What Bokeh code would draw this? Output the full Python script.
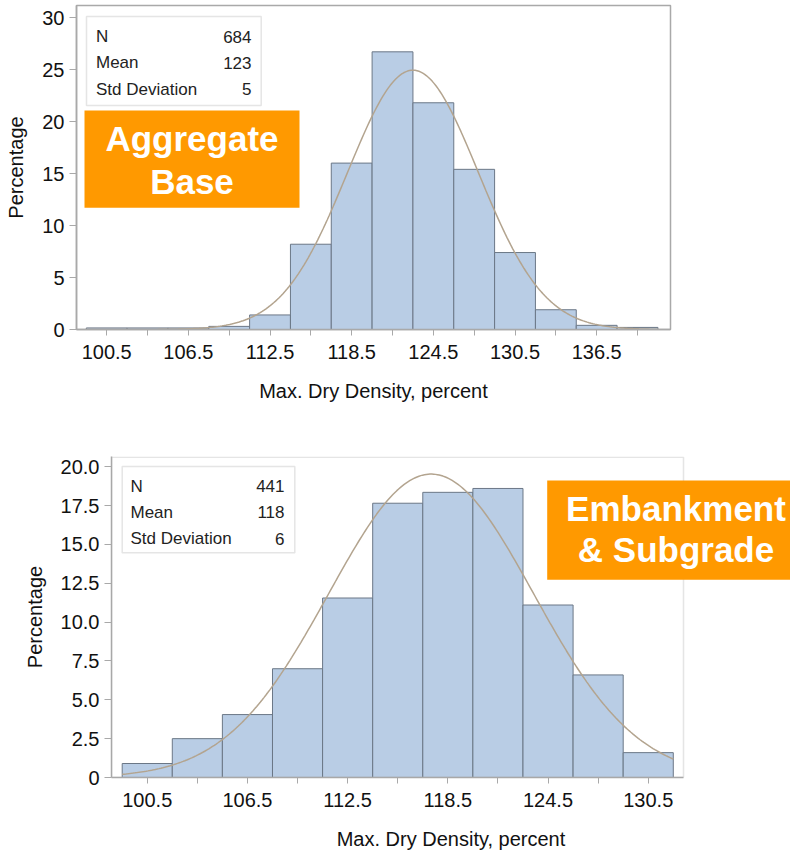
import numpy as np
from bokeh.plotting import figure
from bokeh.models import Range1d, FixedTicker, Label, BoxAnnotation, NumeralTickFormatter
from bokeh.embed import file_html
from bokeh.resources import INLINE

# ---------------- data ----------------
bin_width = 3.0

agg_centers = [100.5, 103.5, 106.5, 109.5, 112.5, 115.5, 118.5, 121.5, 124.5, 127.5, 130.5, 133.5, 136.5, 139.5]
agg_pct = [0.15, 0.15, 0.15, 0.3, 1.4, 8.2, 16.0, 26.7, 21.8, 15.4, 7.4, 1.9, 0.4, 0.2]
agg_stats_labels = ["N", "Mean", "Std Deviation"]
agg_stats_values = ["684", "123", "5"]
agg_fit_mean = 123.0
agg_fit_sd = 4.8
agg_x_ticks = [100.5, 106.5, 112.5, 118.5, 124.5, 130.5, 136.5]
agg_x_minor = [103.5, 109.5, 115.5, 121.5, 127.5, 133.5, 139.5]
agg_y_ticks = [0, 5, 10, 15, 20, 25, 30]

emb_centers = [100.5, 103.5, 106.5, 109.5, 112.5, 115.5, 118.5, 121.5, 124.5, 127.5, 130.5]
emb_pct = [0.9, 2.5, 4.05, 7.0, 11.55, 17.65, 18.35, 18.6, 11.1, 6.6, 1.6]
emb_stats_labels = ["N", "Mean", "Std Deviation"]
emb_stats_values = ["441", "118", "6"]
emb_fit_mean = 117.5
emb_fit_sd = 6.13
emb_x_ticks = [100.5, 106.5, 112.5, 118.5, 124.5, 130.5]
emb_x_minor = [103.5, 109.5, 115.5, 121.5, 127.5]
emb_y_ticks = [0, 2.5, 5, 7.5, 10, 12.5, 15, 17.5, 20]

x_label = "Max. Dry Density, percent"
y_label = "Percentage"

# ---------------- style ----------------
FONT = "Liberation Sans"
BAR_FILL = "#b9cde5"
BAR_LINE = "#6b7786"
CURVE = "#b3a48f"
FRAME = "#a9a9a9"
ORANGE = "#ff9900"
STAT_FS = 17
TAG_FS = 35
BASE_SHIFT = 0.38   # observed baseline offset of Label text (in em)


def normal_curve(centers, mean, sd, n=300):
    lo = centers[0] - bin_width / 2
    hi = centers[-1] + bin_width / 2
    xs = np.linspace(lo, hi, n)
    ys = 100 * bin_width * np.exp(-0.5 * ((xs - mean) / sd) ** 2) / (sd * np.sqrt(2 * np.pi))
    return xs, ys


def make_fig(centers, pct, fit_mean, fit_sd, xr, yr, fw, fh, borders, xticks, xminor, yticks):
    p = figure(frame_width=fw, frame_height=fh, x_range=Range1d(*xr), y_range=Range1d(*yr),
               output_backend="svg", toolbar_location=None,
               min_border_left=borders[0], min_border_right=borders[1],
               min_border_top=borders[2], min_border_bottom=borders[3])
    p.grid.visible = False
    p.outline_line_color = FRAME
    p.outline_line_width = 1.5
    p.background_fill_color = "white"
    p.border_fill_color = "white"

    p.vbar(x=centers, width=bin_width, top=pct, bottom=0,
           fill_color=BAR_FILL, line_color=BAR_LINE, line_width=1)
    xs, ys = normal_curve(centers, fit_mean, fit_sd)
    p.line(xs, ys, line_color=CURVE, line_width=1.5)

    xa = p.xaxis[0]
    xa.ticker = FixedTicker(ticks=xticks, minor_ticks=xminor)
    xa.axis_label = x_label
    ya = p.yaxis[0]
    ya.ticker = FixedTicker(ticks=yticks)
    ya.axis_label = y_label
    for ax in (xa, ya):
        ax.axis_line_color = FRAME
        ax.axis_line_width = 1.5
        ax.major_tick_line_color = FRAME
        ax.minor_tick_line_color = FRAME
        ax.major_tick_in = 0
        ax.minor_tick_in = 0
        ax.major_label_text_font = FONT
        ax.major_label_text_font_size = "20px"
        ax.major_label_text_color = "#111111"
        ax.axis_label_text_font = FONT
        ax.axis_label_text_font_size = "20px"
        ax.axis_label_text_font_style = "normal"
        ax.axis_label_text_color = "#111111"
    xa.major_tick_out = 6
    xa.minor_tick_out = 6
    xa.major_label_standoff = 9
    xa.axis_label_standoff = 18
    ya.major_tick_out = 7
    ya.minor_tick_out = 0
    ya.major_label_standoff = 5
    ya.axis_label_standoff = 12
    return p


def add_stats(p, box, labels, values, xl, xr_, baselines):
    p.add_layout(BoxAnnotation(left=box[0], right=box[1], top=box[2], bottom=box[3],
                               fill_color="white", fill_alpha=1.0,
                               line_color=FRAME, line_width=1.5))
    for lab, val, yb in zip(labels, values, baselines):
        p.add_layout(Label(x=xl, y=yb, text=lab, text_font=FONT, text_font_size=f"{STAT_FS}px",
                           text_color="#222222", text_align="left", text_baseline="alphabetic"))
        p.add_layout(Label(x=xr_, y=yb, text=val, text_font=FONT, text_font_size=f"{STAT_FS}px",
                           text_color="#222222", text_align="right", text_baseline="alphabetic"))


def add_tag(p, box, lines, xc, baselines):
    p.add_layout(BoxAnnotation(left=box[0], right=box[1], top=box[2], bottom=box[3],
                               fill_color=ORANGE, fill_alpha=1.0, line_color=None))
    for t, yb in zip(lines, baselines):
        p.add_layout(Label(x=xc, y=yb, text=t, text_font=FONT, text_font_size=f"{TAG_FS}px",
                           text_font_style="bold", text_color="white",
                           text_align="center", text_baseline="alphabetic"))


# ---------------- top chart ----------------
T_PX_X = 13.61   # px per unit
T_PX_Y = 10.4
T_X0 = 98.28
T_FW, T_FH = 594, 324
top_xr = (T_X0, T_X0 + T_FW / T_PX_X)
top_yr = (0, T_FH / T_PX_Y)
# page pixel -> data helpers (frame left at 76 px, zero line at 329 px)
tx = lambda px: T_X0 + (px - 76) / T_PX_X
ty = lambda py: (329 - py) / T_PX_Y
s_stat = BASE_SHIFT * STAT_FS
s_tag = BASE_SHIFT * TAG_FS

p1 = make_fig(agg_centers, agg_pct, agg_fit_mean, agg_fit_sd, top_xr, top_yr, T_FW, T_FH,
              (76, 120, 5, 109), agg_x_ticks, agg_x_minor, agg_y_ticks)
add_stats(p1, (tx(86), tx(260.7), ty(16), ty(105)), agg_stats_labels, agg_stats_values,
          tx(95.5), tx(251), [ty(42.7 - s_stat), ty(68.5 - s_stat), ty(95 - s_stat)])
add_tag(p1, (tx(84), tx(299), ty(110), ty(207.3)), ["Aggregate", "Base"], tx(191.5),
        [ty(151.7 - s_tag), ty(194.5 - s_tag)])

# ---------------- bottom chart ----------------
B_PX_X = 16.7
B_PX_Y = 15.54
B_X0 = 98.36
B_FW_VIS = 572           # visible chart frame width
B_FW = 679               # drawing area extends to the window edge (for the orange tag)
B_FH = 321
bot_xr = (B_X0, B_X0 + B_FW / B_PX_X)
bot_x_vis_end = B_X0 + B_FW_VIS / B_PX_X
bot_yr = (0, B_FH / B_PX_Y)
B_TOP = 438
bx = lambda px: B_X0 + (px - 111) / B_PX_X
by = lambda py: (B_TOP + 18 + B_FH - py) / B_PX_Y

p2 = make_fig(emb_centers, emb_pct, emb_fit_mean, emb_fit_sd, bot_xr, bot_yr, B_FW, B_FH,
              (111, 0, 18, 75), emb_x_ticks, emb_x_minor, emb_y_ticks)
p2.outline_line_color = None
p2.xaxis[0].bounds = (B_X0, bot_x_vis_end)
p2.yaxis[0].formatter = NumeralTickFormatter(format="0.0")
p2.yaxis[0].major_label_overrides = {0: "0"}
# visible frame of the lower chart
p2.add_layout(BoxAnnotation(left=B_X0, right=bot_x_vis_end, bottom=0,
                            top=bot_yr[1] - 0.75 / B_PX_Y,
                            fill_alpha=0, line_color=FRAME, line_width=1.5))
add_stats(p2, (bx(121.7), bx(294.3), by(466), by(552.3)), emb_stats_labels, emb_stats_values,
          bx(130), bx(284), [by(492.3 - s_stat), by(518.3 - s_stat), by(544.5 - s_stat)])
add_tag(p2, (bx(546.7), bx(800), by(480), by(579.3)), ["Embankment", "& Subgrade"], bx(675.5),
        [by(521.7 - s_tag), by(562.7 - s_tag)])

open("out.html", "w").write(file_html([p1, p2], INLINE))
